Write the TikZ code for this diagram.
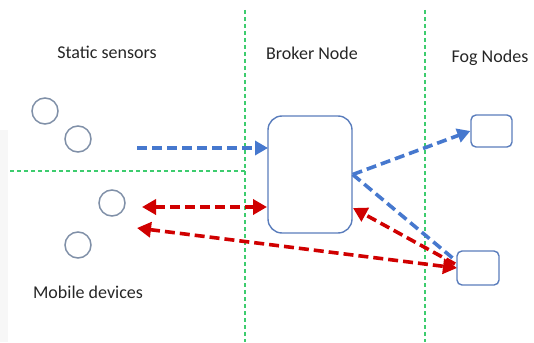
\documentclass[tikz,border=0pt]{standalone}
\usepackage{fontspec}
\setmainfont{Carlito}
\usetikzlibrary{arrows.meta}
\definecolor{gline}{HTML}{3DCC6E}
\definecolor{bline}{HTML}{4678CE}
\definecolor{rline}{HTML}{D00000}
\definecolor{circ}{HTML}{8090A8}
\definecolor{boxc}{HTML}{5A7DBC}
\begin{document}
\begin{tikzpicture}[x=1pt,y=-1pt,
  sep/.style={draw=gline,line width=1.3pt,dash pattern=on 4pt off 3pt},
  dev/.style={circle,draw=circ,line width=1.5pt,minimum size=26pt,inner sep=0pt},
  fogbox/.style={draw=boxc,line width=1.4pt,rounded corners=5pt,inner sep=0pt},
  lbl/.style={font=\fontsize{18}{21}\selectfont,text=black!85},
  barrow/.style={draw=bline,line width=3.6pt,dash pattern=on 10pt off 5pt,-{Triangle[length=13pt,width=14pt]}},
  rarrow/.style={draw=rline,line width=3.6pt,dash pattern=on 10pt off 5pt,-{Triangle[length=14pt,width=15pt]}},
  rdarrow/.style={draw=rline,line width=3.6pt,dash pattern=on 10pt off 5pt,{Triangle[length=14pt,width=15pt]}-{Triangle[length=14pt,width=15pt]}}
]
\useasboundingbox (0,0) rectangle (534,342);
\fill[black!3] (0,130) rectangle (8,342);
% separators
\coordinate (v1t) at (245,10); \coordinate (v1b) at (245,342);
\coordinate (v2t) at (425,10); \coordinate (v2b) at (425,342);
\coordinate (hl) at (10,171); \coordinate (hr) at (245,171);
\draw[sep] (v1t) -- (v1b);
\draw[sep] (v2t) -- (v2b);
\draw[sep] (hl) -- (hr);
% labels
\node[lbl] (tstatic) at (107,52) {Static sensors};
\node[lbl] (tbroker) at (312,53) {Broker Node};
\node[lbl] (tfog) at (490,58) {Fog Nodes};
\node[lbl] (tmobile) at (88,292) {Mobile devices};
% devices
\node[dev] (s1) at (45,111) {};
\node[dev] (s2) at (78,139) {};
\node[dev] (m1) at (112,203) {};
\node[dev] (m2) at (78,245) {};
% broker and fog nodes
\node[fogbox,rounded corners=14pt,minimum width=84pt,minimum height=117pt] (broker) at (310,174.5) {};
\node[fogbox,minimum width=41pt,minimum height=32pt] (fog1) at (491.5,131) {};
\node[fogbox,minimum width=42pt,minimum height=34pt] (fog2) at (478,268) {};
% arrow ends
\coordinate (bs) at (137,148);
\coordinate (bt) at (268,148);
\coordinate (r1a) at (142,207);
\coordinate (r1b) at (267,207);
\coordinate (r2a) at (137,228);
\coordinate (r2b) at (457,268);
\coordinate (r3a) at (455,264);
\coordinate (r3b) at (353,208);
\coordinate (b3e) at (455,260);
% arrows
\draw[barrow] (bs) -- (bt);
\draw[barrow] (broker.east) -- (fog1.west);
\draw[bline,line width=3.6pt,dash pattern=on 10pt off 5pt] (broker.east) -- (b3e);
\draw[rdarrow] (r1a) -- (r1b);
\draw[rarrow] (r3a) -- (r3b);
\draw[rdarrow] (r2a) -- (r2b);
\end{tikzpicture}
\end{document}
